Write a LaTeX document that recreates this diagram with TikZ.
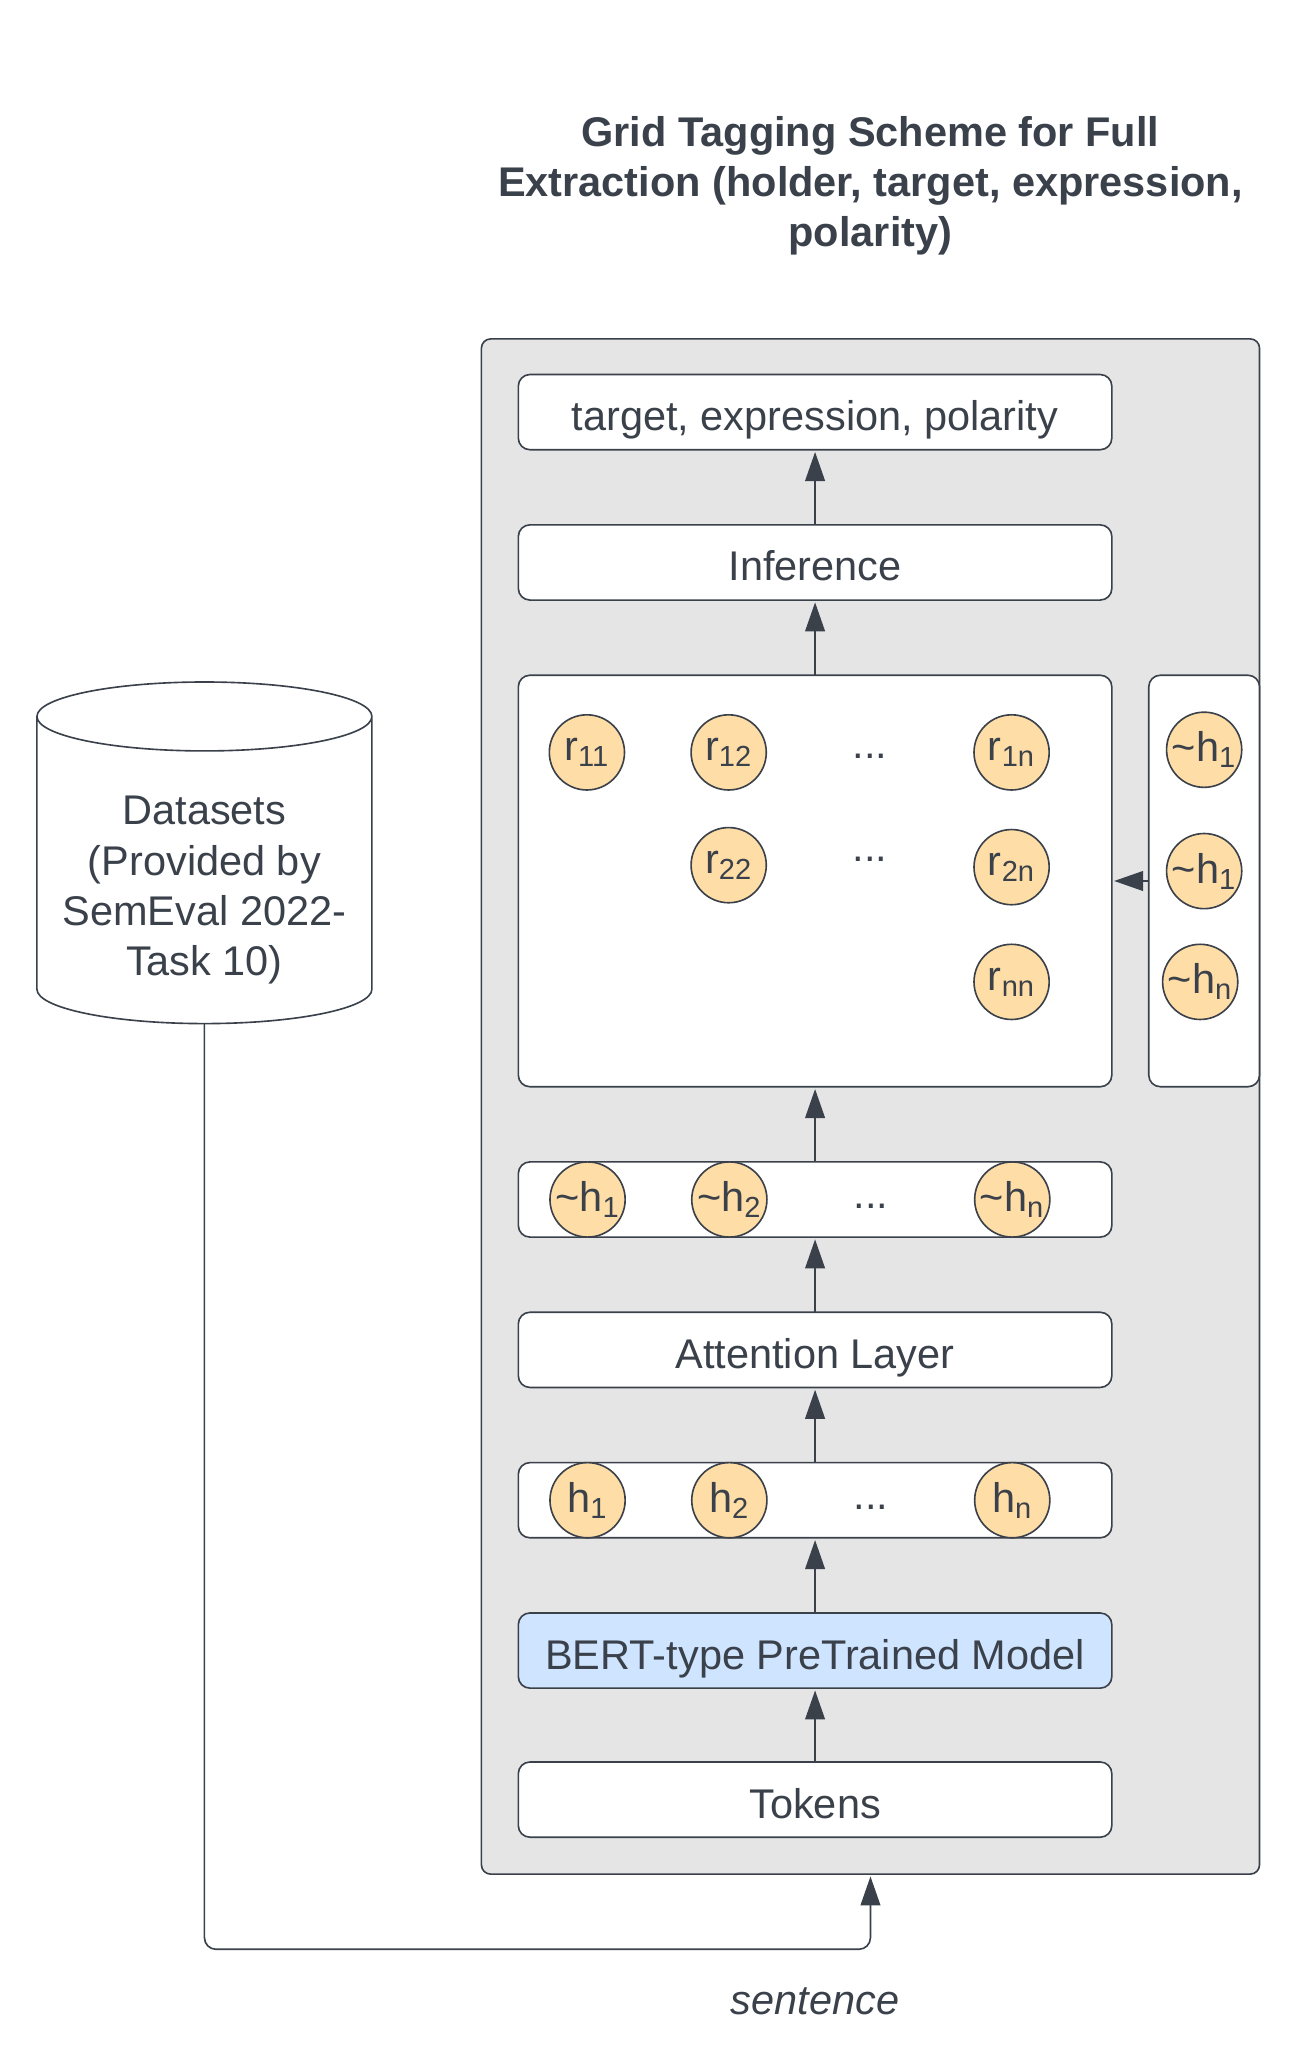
\documentclass[tikz,border=0pt]{standalone}
\usepackage{fontspec}
\setmainfont{Liberation Sans}
\usetikzlibrary{shapes.geometric, arrows.meta, positioning, calc}
\definecolor{ink}{HTML}{3A414A}
\definecolor{panelgray}{HTML}{E5E5E5}
\definecolor{bertblue}{HTML}{CFE4FF}
\definecolor{unitorange}{HTML}{FFDDA6}
\newcommand{\bodyfont}{\fontsize{17.9}{21.7}\selectfont}
\tikzset{
	base/.style={draw=ink, text=ink, line width=0.7pt, font=\bodyfont, outer sep=0pt, inner sep=0pt},
	panel/.style={base, fill=panelgray, rounded corners=4pt, minimum width=11.8cm, minimum height=23.28cm},
	layer/.style={base, fill=white, rounded corners=5pt, minimum width=9cm, minimum height=1.14cm, text height=0.56cm, text depth=0pt},
	unit/.style={base, circle, fill=unitorange, minimum size=1.14cm},
	dots/.style={text=ink, font=\bodyfont, inner sep=0pt, outer sep=0pt},
	flow/.style={draw=ink, line width=0.7pt, shorten >=1pt, -{Triangle[length=0.44cm,width=0.3cm]}},
}
\begin{document}
\begin{tikzpicture}[node distance=1.14cm]
	\useasboundingbox (0,0) rectangle (19.7,31.36);
	\node[panel] (panel) at (13.2,14.58) {};
	% stack of layers, bottom to top
	\node[layer, above right=0.56cm and 0.56cm of panel.south west] (tokens) {Tokens};
	\node[layer, fill=bertblue, above=1.12cm of tokens] (bert) {BERT-type PreTrained Model};
	\node[layer, above=of bert] (hrow) {};
	\node[layer, above=of hrow] (attn) {Attention Layer};
	\node[layer, above=of attn] (hatrow) {};
	\node[layer, minimum height=6.24cm, above=of hatrow] (grid) {};
	\node[layer, above=of grid] (infer) {Inference};
	\node[layer, above=of infer] (result) {target, expression, polarity};
	\node[layer, minimum width=1.68cm, minimum height=6.24cm, right=0.56cm of grid] (side) {};
	% h row
	\node[unit, right=0.48cm of hrow.west] (h1) {h\textsubscript{1}};
	\node[unit, right=1.01cm of h1] (h2) {h\textsubscript{2}};
	\node[unit, right=3.15cm of h2] (hn) {h\textsubscript{n}};
	\node[dots, yshift=-0.1cm] (hdots) at ($(h2)!0.5!(hn)$) {...};
	% ~h row
	\node[unit, right=0.48cm of hatrow.west] (hat1) {\textasciitilde h\textsubscript{1}};
	\node[unit, right=1.01cm of hat1] (hat2) {\textasciitilde h\textsubscript{2}};
	\node[unit, right=3.15cm of hat2] (hatn) {\textasciitilde h\textsubscript{n}};
	\node[dots, yshift=-0.1cm] (hatdots) at ($(hat2)!0.5!(hatn)$) {...};
	% grid
	\node[unit, below right=0.767cm and 0.637cm of grid.north west] (r11) {r\textsubscript{11}};
	\node[unit, right=1.01cm of r11] (r12) {r\textsubscript{12}};
	\node[unit, right=3.15cm of r12] (r1n) {r\textsubscript{1n}};
	\node[unit, below=0.57cm of r12] (r22) {r\textsubscript{22}};
	\node[unit, below=0.6cm of r1n] (r2n) {r\textsubscript{2n}};
	\node[unit, below=0.6cm of r2n] (rnn) {r\textsubscript{nn}};
	\node[dots, yshift=-0.06cm] (rdots1) at ($(r12)!0.5!(r1n)$) {...};
	\node[dots, yshift=0.1cm] (rdots2) at ($(r22)!0.5!(r2n)$) {...};
	% side column
	\node[unit, yshift=0.04cm] (s1) at (r11 -| side) {\textasciitilde h\textsubscript{1}};
	\node[unit, yshift=-0.06cm] (s2) at (r2n -| side) {\textasciitilde h\textsubscript{1}};
	\node[unit, xshift=-0.06cm] (s3) at (rnn -| side) {\textasciitilde h\textsubscript{n}};
	% data source
	\node[base, cylinder, shape border rotate=90, aspect=0.243, fill=white, align=center,
		minimum width=5.08cm, minimum height=5.18cm] (data) at (3.1,18.16)
		{\rule{0pt}{1.04cm}Datasets\\(Provided by\\SemEval 2022-\\Task 10)};
	\coordinate[below=1.14cm of panel.south] (turn);
	\node[below=0.58cm of tokens |- turn, text=ink, font=\bodyfont\itshape, inner sep=0pt] (sentence) {sentence};
	\node[above=1.26cm of panel, text=ink, font=\bodyfont\bfseries, align=center, inner sep=0pt] (title)
		{Grid Tagging Scheme for Full\\Extraction (holder, target, expression,\\polarity)};
	\foreach \from/\to in {tokens/bert,bert/hrow,hrow/attn,attn/hatrow,hatrow/grid,grid/infer,infer/result,side/grid}
		\draw[flow] (\from) -- (\to);
	\draw[flow, rounded corners=5pt] (data.bottom) |- (turn) -- (panel.south);
\end{tikzpicture}
\end{document}
